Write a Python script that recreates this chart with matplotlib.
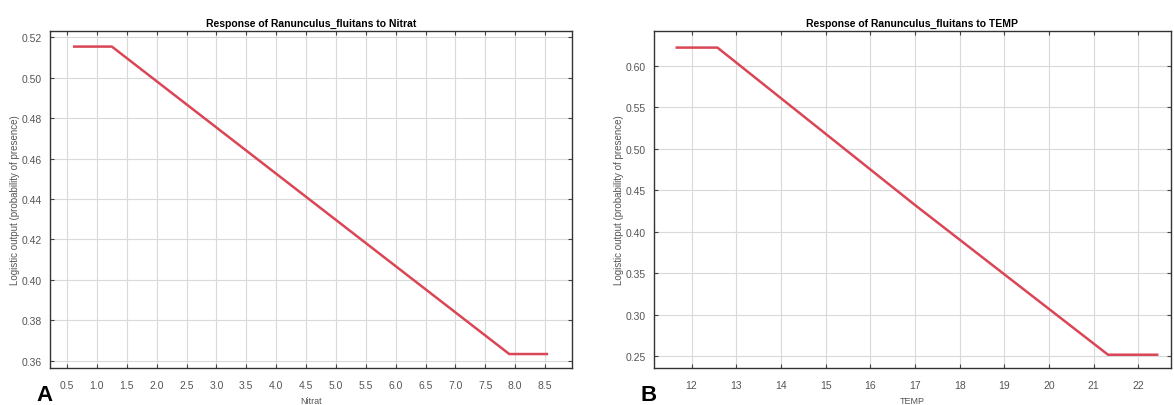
import matplotlib
matplotlib.use("Agg")
import matplotlib.pyplot as plt

plt.rcParams['font.family'] = ['Liberation Sans', 'DejaVu Sans']

# response curve, nitrate
nitrat_x = [0.62, 1.25, 7.90, 8.53]
nitrat_y = [0.5153, 0.5153, 0.3634, 0.3634]
nitrat_ticks = [0.5, 1.0, 1.5, 2.0, 2.5, 3.0, 3.5, 4.0, 4.5, 5.0, 5.5, 6.0, 6.5, 7.0, 7.5, 8.0, 8.5]
nitrat_yticks = [0.36, 0.38, 0.40, 0.42, 0.44, 0.46, 0.48, 0.50, 0.52]

# response curve, temperature
temp_x = [11.67, 12.58, 17.0, 21.32, 22.42]
temp_y = [0.6217, 0.6217, 0.432, 0.2516, 0.2516]
temp_ticks = [12, 13, 14, 15, 16, 17, 18, 19, 20, 21, 22]
temp_yticks = [0.25, 0.30, 0.35, 0.40, 0.45, 0.50, 0.55, 0.60]

W, H = 1174, 406
fig = plt.figure(figsize=(W / 100, H / 100), dpi=100)

def panel(rect, x, y, xticks, yticks, xlim, ylim, fmt, title, xlabel, letter, letter_x):
    ax = fig.add_axes(rect)
    ax.plot(x, y, color='#da4655', linewidth=1.8, solid_joinstyle='round')
    ax.set_xlim(*xlim)
    ax.set_ylim(*ylim)
    ax.set_xticks(xticks)
    ax.set_yticks(yticks)
    ax.set_xticklabels([fmt.format(v) for v in xticks])
    ax.set_yticklabels(['{:.2f}'.format(v) for v in yticks])
    ax.grid(True, color='#d9d9d9', linewidth=0.8)
    ax.set_axisbelow(True)
    ax.tick_params(direction='in', top=True, right=True, length=3,
                   labelsize=7.5, labelcolor='#555555', color='#444444')
    ax.tick_params(axis='x', pad=9)
    ax.tick_params(axis='y', pad=6)
    for s in ax.spines.values():
        s.set_color('#333333')
        s.set_linewidth(1.0)
    ax.set_title(title, fontsize=7.5, fontweight='bold', pad=4)
    ax.set_xlabel(xlabel, fontsize=6.5, color='#555555', labelpad=4)
    ax.set_ylabel('Logistic output (probability of presence)', fontsize=7,
                  color='#555555', labelpad=1)
    fig.text(letter_x, 0.0, letter, fontsize=16, fontweight='bold', ha='left', va='bottom')
    return ax

def rect(l, r, t, b):
    return [l / W, 1 - b / H, (r - l) / W, (b - t) / H]

panel(rect(50, 572, 32, 369), nitrat_x, nitrat_y, nitrat_ticks, nitrat_yticks,
      (0.215, 8.95), (0.3565, 0.523), '{:.1f}',
      'Response of Ranunculus_fluitans to Nitrat', 'Nitrat', 'A', 36 / W)

panel(rect(654, 1171, 32, 369), temp_x, temp_y, temp_ticks, temp_yticks,
      (11.16, 22.73), (0.2356, 0.6417), '{:d}',
      'Response of Ranunculus_fluitans to TEMP', 'TEMP', 'B', 641 / W)

fig.savefig('out.png', dpi=100, facecolor='white')
